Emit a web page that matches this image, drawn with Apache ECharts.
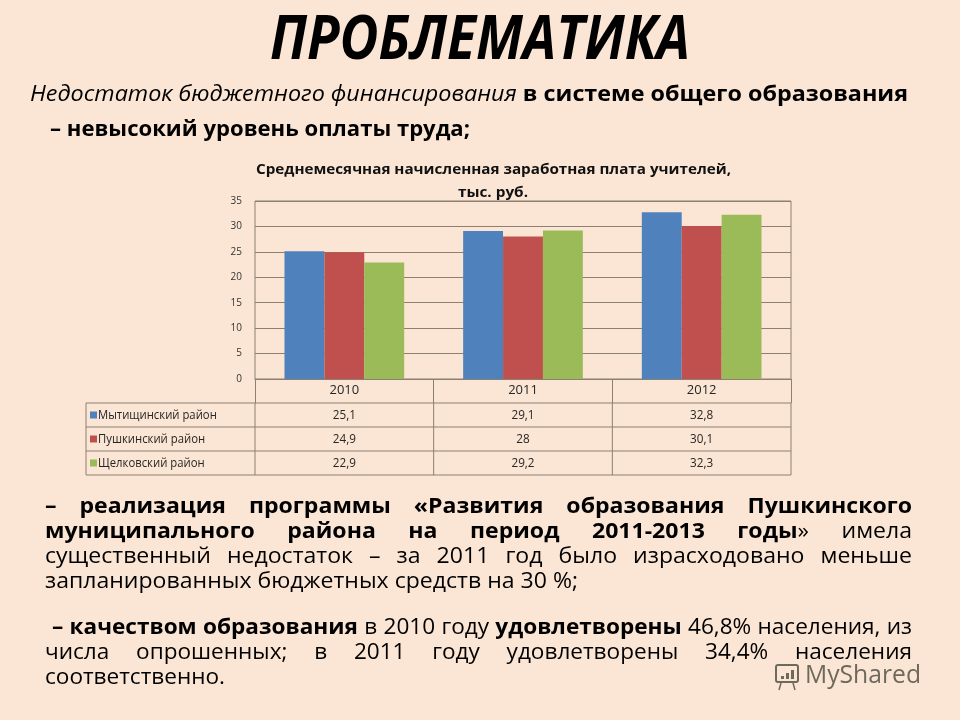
<!DOCTYPE html>
<html><head><meta charset="utf-8">
<script src="https://cdn.jsdelivr.net/npm/echarts@6/dist/echarts.min.js"></script>
<style>html,body{margin:0;padding:0;background:#FBE6D5}#c{width:960px;height:720px}</style>
</head><body><div id="c"></div>
<script>
// ---- data ----
const years = ['2010', '2011', '2012'];
const seriesNames = ['Мытищинский район', 'Пушкинский район', 'Щелковский район'];
const mytishchi = [25.1, 29.1, 32.8];
const pushkino = [24.9, 28, 30.1];
const schelkovo = [22.9, 29.2, 32.3];
const tableLabels = [['25,1', '29,1', '32,8'], ['24,9', '28', '30,1'], ['22,9', '29,2', '32,3']];
const yMin = 0, yMax = 35, yStep = 5;
const chartTitle1 = 'Среднемесячная начисленная заработная плата учителей,';
const chartTitle2 = 'тыс. руб.';

// ---- style ----
const BG = '#FBE6D5';
const LINE = '#8c8070';
const COLORS = ['#4F81BD', '#C0504D', '#9BBB59'];
const FAM = '"Open Sans", "Noto Sans", "DejaVu Sans", sans-serif';

const chart = echarts.init(document.getElementById('c'), null, { renderer: 'canvas' });
const seriesData = [mytishchi, pushkino, schelkovo];

chart.setOption({
  backgroundColor: BG,
  animation: false,
  grid: { left: 255, right: 169, top: 201, bottom: 341, show: true, borderColor: LINE, borderWidth: 1, backgroundColor: 'transparent' },
  xAxis: {
    type: 'category', data: years,
    axisLine: { lineStyle: { color: LINE, width: 1 } },
    axisTick: { show: true, length: 24, lineStyle: { color: LINE } },
    axisLabel: { margin: 5, fontSize: 13, color: '#262626', fontFamily: FAM }
  },
  yAxis: {
    type: 'value', min: yMin, max: yMax, interval: yStep,
    axisLine: { show: false }, axisTick: { show: false },
    splitLine: { lineStyle: { color: LINE, width: 1 } },
    axisLabel: { margin: 13, fontSize: 10, color: '#333', fontFamily: FAM }
  },
  series: seriesNames.map((n, k) => ({
    name: n, type: 'bar', data: seriesData[k],
    barGap: '0%', barCategoryGap: '33%',
    itemStyle: { color: COLORS[k] }
  }))
});

// ---- text helpers ----
const ctx = document.createElement('canvas').getContext('2d');
const els = [];
function fontStr(p, size) { return (p.i ? 'italic ' : '') + (p.b ? 'bold ' : '') + size + 'px ' + FAM; }
function parse(str) {
  let b = false, i = false; const words = []; let cur = []; let buf = '';
  const flush = () => { if (buf) { cur.push({ t: buf, b, i }); buf = ''; } };
  for (let k = 0; k < str.length; k++) {
    if (str.startsWith('**', k)) { flush(); b = !b; k++; continue; }
    if (str.startsWith('__', k)) { flush(); i = !i; k++; continue; }
    const c = str[k];
    if (c === ' ') { flush(); if (cur.length) { words.push(cur); cur = []; } continue; }
    buf += c;
  }
  flush(); if (cur.length) words.push(cur);
  return words;
}
function textEl(t, x, y, font, fill, sx, align) {
  return { type: 'text', x: x, y: y, scaleX: sx, silent: true, z: 10,
    style: { text: t, font: font, fill: fill, textAlign: align || 'left', textVerticalAlign: 'middle', align: align || 'left', verticalAlign: 'middle' } };
}
function layLine(str, o) {
  const words = parse(str);
  const ww = words.map(w => w.reduce((a, p) => { ctx.font = fontStr(p, o.size); p.w = ctx.measureText(p.t).width; return a + p.w; }, 0));
  ctx.font = fontStr({}, o.size); const sp = ctx.measureText(' ').width;
  const total = ww.reduce((a, b) => a + b, 0);
  let sx, gap;
  if (o.mode === 'fit') { const nat = total + sp * (words.length - 1); sx = (o.x1 - o.x0) / nat; gap = sp * sx; }
  else if (o.mode === 'justify') {
    sx = o.sx;
    if (total * sx + (words.length - 1) * sp * sx * 0.5 > o.x1 - o.x0) sx = (o.x1 - o.x0) / (total + (words.length - 1) * sp * 0.5);
    gap = words.length > 1 ? ((o.x1 - o.x0) - total * sx) / (words.length - 1) : 0;
  } else { sx = o.sx; gap = sp * sx; }
  let x = o.x0;
  words.forEach(w => { w.forEach(p => { els.push(textEl(p.t, x, o.y, fontStr(p, o.size), o.color || '#000', sx)); x += p.w * sx; }); x += gap; });
  return sx;
}

// ---- slide text ----
layLine('**__ПРОБЛЕМАТИКА__**', { x0: 270, x1: 690, y: 42, size: 60, mode: 'fit' });
layLine('__Недостаток бюджетного финансирования__ **в системе общего образования**', { x0: 30, x1: 908, y: 95, size: 21, mode: 'fit' });
layLine('**– невысокий уровень оплаты труда;**', { x0: 50, x1: 470, y: 130, size: 21, mode: 'fit' });
layLine('**' + chartTitle1 + '**', { x0: 256, x1: 731, y: 170, size: 14, mode: 'fit', color: '#111' });
layLine('**' + chartTitle2 + '**', { x0: 458, x1: 528, y: 193, size: 14, mode: 'fit', color: '#111' });

const s1 = layLine('запланированных бюджетных средств на 30 %;', { x0: 45, x1: 578, y: 582, size: 21, mode: 'fit' });
layLine('**– реализация программы «Развития образования Пушкинского**', { x0: 45, x1: 912, y: 507, size: 21, mode: 'justify', sx: s1 });
layLine('**муниципального района на период 2011-2013 годы**» имела', { x0: 45, x1: 912, y: 532, size: 21, mode: 'justify', sx: s1 });
layLine('существенный недостаток – за 2011 год было израсходовано меньше', { x0: 45, x1: 912, y: 557, size: 21, mode: 'justify', sx: s1 });

const s2 = layLine('соответственно.', { x0: 45, x1: 225, y: 678, size: 21, mode: 'fit' });
layLine('**– качеством образования** в 2010 году **удовлетворены** 46,8% населения, из', { x0: 52, x1: 912, y: 628, size: 21, mode: 'justify', sx: s2 });
layLine('числа опрошенных; в 2011 году удовлетворены 34,4% населения', { x0: 45, x1: 912, y: 653, size: 21, mode: 'justify', sx: s2 });

// ---- data table under the chart ----
const gl = 255, gr = 791;
const y0 = chart.convertToPixel({ yAxisIndex: 0 }, 0);
const rowH = 24;
const tLeft = 86;
const hdrBottom = y0 + rowH;
const band = (gr - gl) / years.length;
const lineStyle = { stroke: LINE, lineWidth: 1 };
for (let r = 0; r <= seriesNames.length; r++) {
  const y = hdrBottom + r * rowH;
  els.push({ type: 'line', silent: true, shape: { x1: tLeft, y1: y, x2: gr, y2: y }, style: lineStyle });
}
const vxs = [tLeft, gl];
years.forEach((yv, k) => vxs.push(gl + band * (k + 1)));
vxs.forEach(x => els.push({ type: 'line', silent: true, shape: { x1: x, y1: hdrBottom, x2: x, y2: hdrBottom + seriesNames.length * rowH }, style: lineStyle }));
seriesNames.forEach((n, r) => {
  const yc = hdrBottom + r * rowH + rowH / 2;
  els.push({ type: 'rect', silent: true, shape: { x: 90, y: yc - 3.5, width: 7, height: 7 }, style: { fill: COLORS[r] } });
  els.push(textEl(n, 98, yc, '13px ' + FAM, '#262626', 0.87));
  years.forEach((yv, k) => {
    const xc = chart.convertToPixel({ xAxisIndex: 0 }, yv);
    els.push(textEl(tableLabels[r][k], xc, yc, '13px ' + FAM, '#262626', 0.9, 'center'));
  });
});

// ---- watermark ----
els.push({ type: 'rect', silent: true, shape: { x: 776, y: 665, width: 22, height: 17, r: 2 }, style: { fill: 'none', stroke: '#6d6a5c', lineWidth: 2 } });
[[781, 676, 3, 3], [786, 673, 3, 6], [791, 670, 3, 9]].forEach(b => els.push({ type: 'rect', silent: true, shape: { x: b[0], y: b[1], width: b[2], height: b[3] }, style: { fill: '#6d6a5c' } }));
els.push({ type: 'line', silent: true, shape: { x1: 781, y1: 683, x2: 779, y2: 690 }, style: { stroke: '#6d6a5c', lineWidth: 1.5 } });
els.push({ type: 'line', silent: true, shape: { x1: 793, y1: 683, x2: 795, y2: 690 }, style: { stroke: '#6d6a5c', lineWidth: 1.5 } });
layLine('MyShared', { x0: 805, x1: 921, y: 676, size: 26, mode: 'fit', color: '#6d6a5c' });

chart.setOption({ graphic: { elements: els } });
</script>
</body></html>
